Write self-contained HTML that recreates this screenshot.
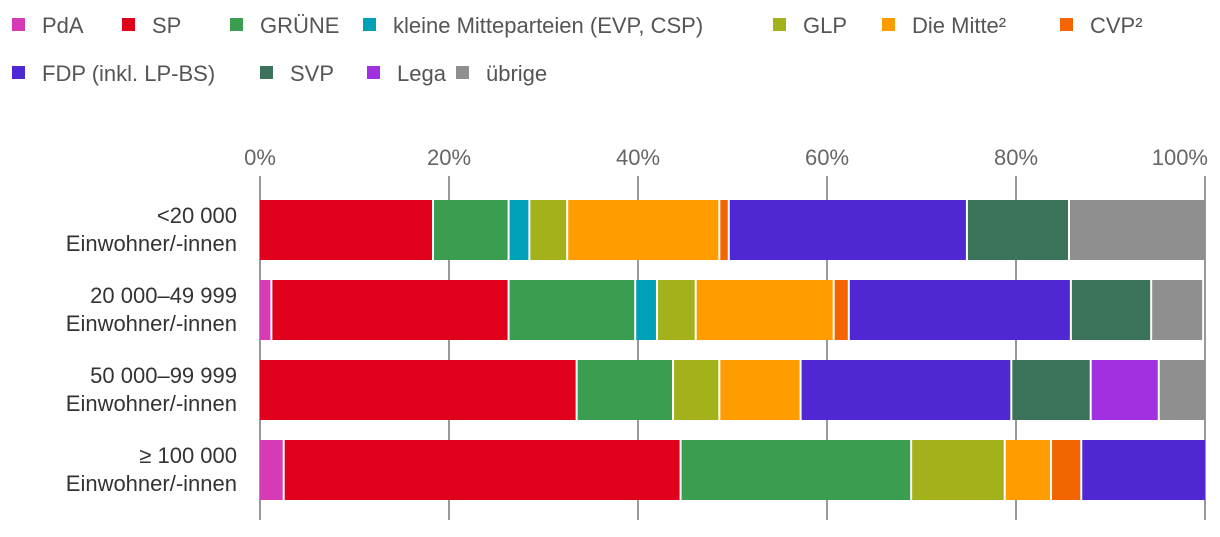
<!DOCTYPE html>
<html><head><meta charset="utf-8"><style>
body{margin:0;background:#fff;}
svg text{font-family:"Liberation Sans","DejaVu Sans",sans-serif;}
</style></head><body>
<svg id="chart" width="1220" height="532" xmlns="http://www.w3.org/2000/svg"></svg>
<script>
const parties=["PdA","SP","GRÜNE","kleine Mitteparteien (EVP, CSP)","GLP","Die Mitte","CVP","FDP (inkl. LP-BS)","SVP","Lega","übrige"];
const colors=["#d63ab5","#e0001b","#3a9d50","#00a0b8","#a3b21a","#ff9c00","#f26500","#4f28d3","#3a735a","#a030e0","#8f8f8f"];
const categories=[["<20 000","Einwohner/-innen"],["20 000–49 999","Einwohner/-innen"],["50 000–99 999","Einwohner/-innen"],["≥ 100 000","Einwohner/-innen"]];
const row1=[0,18.2,8.0,2.2,4.0,16.1,1.0,25.2,10.8,0,14.5];
const row2=[1.1,25.1,13.4,2.3,4.1,14.6,1.6,23.5,8.5,0,5.5];
const row3=[0,33.4,10.2,0,4.9,8.6,0,22.3,8.4,7.2,5.0];
const row4=[2.4,42.0,24.4,0,9.9,4.9,3.2,13.2,0,0,0];
const rows=[row1,row2,row3,row4];
const ticks=[0,20,40,60,80,100];
const NS="http://www.w3.org/2000/svg";
const svg=document.getElementById("chart");
const xs=v=>260+v*9.45;
const ys=i=>200+i*80;
function mk(t,a,txt){const e=document.createElementNS(NS,t);for(const k in a)e.setAttribute(k,a[k]);if(txt!=null)e.textContent=txt;svg.appendChild(e);return e;}
const legPos=[[12,0],[122,0],[230,0],[363,0],[773,0],[882,0],[1060,0],[12,1],[260,1],[367,1],[456,1]];
const sup=["","","","","","²","²","","","",""];
parties.forEach((p,i)=>{
 const [x,r]=legPos[i];const y=r?73:25;
 const s=mk("rect",{x:x,y:y-7,width:13,height:13,fill:colors[i]});
 
 
 const t=mk("text",{x:x+30,y:y+8,"font-size":22,fill:"#555"},p+sup[i]);
 
 
});
ticks.forEach((v,i)=>{
 const l=mk("line",{x1:xs(v),x2:xs(v),y1:176,y2:520,stroke:"#999","stroke-width":2});
 
 
 const last=i===ticks.length-1;
 const t=mk("text",{x:last?1208:xs(v),y:165,"font-size":22,fill:"#666","text-anchor":last?"end":"middle"},v+"%");
 
 
});
rows.forEach((row,ri)=>{
 let cum=0;
 row.forEach((v,pi)=>{
  if(v>0){
   const x0=xs(cum),x1=xs(cum+v);
   const r=mk("rect",{x:x0+(cum>0?2:0),y:ys(ri),width:Math.max(0,x1-x0-(cum>0?2:0)),height:60,fill:colors[pi]});
   
   
  }
  cum+=v;
 });
 categories[ri].forEach((ln,li)=>{
  const t=mk("text",{x:237,y:ys(ri)+23+li*28,"font-size":22,fill:"#333","text-anchor":"end"},ln);
  
  
 });
});
</script>
</body></html>
